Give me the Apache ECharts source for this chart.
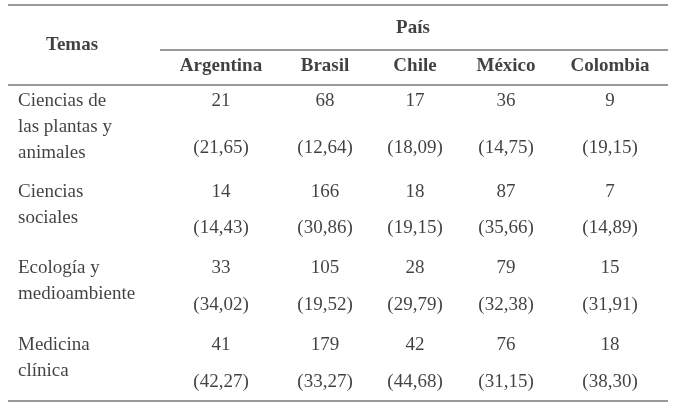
<!DOCTYPE html>
<html>
<head>
<meta charset="UTF-8">
<script src="https://cdn.jsdelivr.net/npm/echarts@6/dist/echarts.min.js"></script>
<style>html,body{margin:0;background:#fff}</style>
</head>
<body>
<div id="chart" style="width:674px;height:407px;"></div>
<script>
const countries = ['Argentina', 'Brasil', 'Chile', 'México', 'Colombia'];
const topics = ['Ciencias de\nlas plantas y\nanimales', 'Ciencias\nsociales', 'Ecología y\nmedioambiente', 'Medicina\nclínica'];
const counts = [
    [21, 68, 17, 36, 9],
    [14, 166, 18, 87, 7],
    [33, 105, 28, 79, 15],
    [41, 179, 42, 76, 18]
];
const percents = [
    ['21,65', '12,64', '18,09', '14,75', '19,15'],
    ['14,43', '30,86', '19,15', '35,66', '14,89'],
    ['34,02', '19,52', '29,79', '32,38', '31,91'],
    ['42,27', '33,27', '44,68', '31,15', '38,30']
];

// layout
const colX = [221, 325, 415, 506, 610];
const rowY = [101, 192, 268, 345];
const parenY = [148, 228, 305, 382];
const font = 'Liberation Serif';
const fs = 19;

const cells = [];
counts.forEach((row, r) => row.forEach((v, c) => {
    cells.push({value: [colX[c], rowY[r]], label: {formatter: String(v)}});
    cells.push({value: [colX[c], parenY[r]], label: {formatter: '(' + percents[r][c] + ')'}});
}));
const heads = [];
countries.forEach((name, c) => heads.push({value: [colX[c], 66], label: {formatter: name}}));
heads.push({value: [413, 28], label: {formatter: 'País'}});
heads.push({value: [72, 45], label: {formatter: 'Temas'}});

const rowLabels = topics.map((t, r) => ({value: [18, rowY[r] - 13], label: {formatter: t}}));

const rule = (x1, x2, y) => ({type: 'line', shape: {x1, y1: y, x2, y2: y}, style: {stroke: '#333', lineWidth: 1}});

const chart = echarts.init(document.getElementById('chart'));
chart.setOption({
    animation: false,
    grid: {left: 0, right: 0, top: 0, bottom: 0},
    xAxis: {type: 'value', min: 0, max: 674, show: false},
    yAxis: {type: 'value', min: 0, max: 407, inverse: true, show: false},
    graphic: [rule(8, 668, 5), rule(160, 668, 50), rule(8, 668, 85), rule(8, 668, 401)],
    series: [
        {
            type: 'scatter', symbolSize: 0, data: cells,
            label: {show: true, position: 'inside', color: '#111', fontFamily: font, fontSize: fs}
        },
        {
            type: 'scatter', symbolSize: 0, data: heads,
            label: {show: true, position: 'inside', color: '#111', fontFamily: font, fontSize: fs, fontWeight: 'bold'}
        },
        {
            type: 'scatter', symbolSize: 0, data: rowLabels,
            label: {show: true, position: 'inside', align: 'left', verticalAlign: 'top', lineHeight: 26,
                color: '#111', fontFamily: font, fontSize: fs}
        }
    ]
});
</script>
</body>
</html>
